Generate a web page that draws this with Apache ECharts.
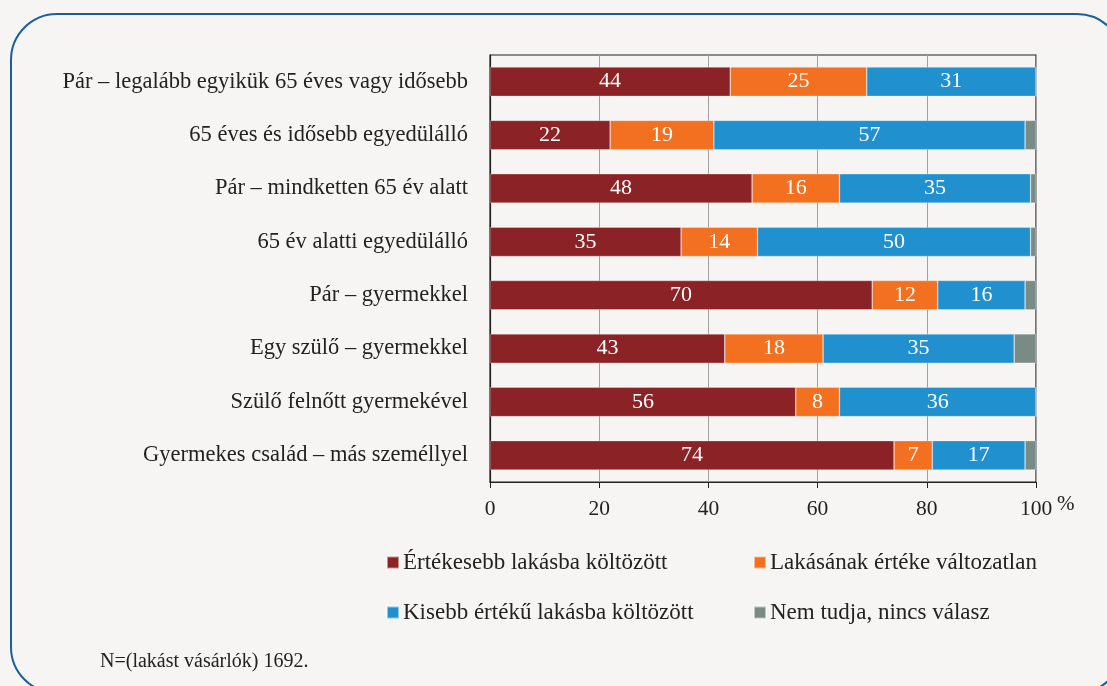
<!DOCTYPE html>
<html>
<head>
<meta charset="utf-8">
<script src="https://cdn.jsdelivr.net/npm/echarts@6/dist/echarts.min.js"></script>
<style>
html,body{margin:0;padding:0;background:#f6f5f3;}
#main{width:1107px;height:686px;}
</style>
</head>
<body>
<div id="main"></div>
<script>
// kategóriák és adatok
const categories = [
	'Pár – legalább egyikük 65 éves vagy idősebb',
	'65 éves és idősebb egyedülálló',
	'Pár – mindketten 65 év alatt',
	'65 év alatti egyedülálló',
	'Pár – gyermekkel',
	'Egy szülő – gyermekkel',
	'Szülő felnőtt gyermekével',
	'Gyermekes család – más személlyel'
];
const ertekesebb = [44, 22, 48, 35, 70, 43, 56, 74];
const valtozatlan = [25, 19, 16, 14, 12, 18, 8, 7];
const kisebb = [31, 57, 35, 50, 16, 35, 36, 17];
const nemTudja = [0, 2, 1, 1, 2, 4, 0, 2];
const xTicks = [0, 20, 40, 60, 80, 100];

const seriesNames = ['Értékesebb lakásba költözött', 'Lakásának értéke változatlan', 'Kisebb értékű lakásba költözött', 'Nem tudja, nincs válasz'];
const colors = ['#8b2226', '#f37021', '#2190cf', '#7a8a84'];
const font = '"Liberation Serif", "DejaVu Serif", serif';

let myChart = echarts.init(document.getElementById('main'));

function barSeries(name, data, showLabel) {
	return {
		name: name,
		type: 'bar',
		stack: 'total',
		barCategoryGap: '45%',
		data: data,
		itemStyle: {borderColor: 'rgba(255,255,255,0.5)', borderWidth: 0.6},
		label: {
			show: showLabel,
			position: 'inside',
			color: '#fff',
			fontFamily: font,
			fontSize: 22,
			formatter: p => p.value > 0 ? p.value : ''
		}
	};
}

function legendItem(i, left, top) {
	return {
		data: [seriesNames[i]],
		left: left,
		top: top,
		icon: 'rect',
		itemWidth: 12,
		itemHeight: 12,
		itemGap: 6,
		textStyle: {fontFamily: font, fontSize: 23, color: '#222', padding: [0, 0, 0, -1]}
	};
}

var option = {
	backgroundColor: '#f6f5f3',
	color: colors,
	animation: false,
	grid: {
		left: 490, right: 71, top: 55, bottom: 204,
		show: true, borderColor: '#222', borderWidth: 1.2, backgroundColor: 'transparent'
	},
	legend: [
		legendItem(0, 381, 546),
		legendItem(1, 748, 546),
		legendItem(2, 381, 596),
		legendItem(3, 748, 596)
	],
	xAxis: {
		type: 'value',
		min: 0,
		max: 100,
		interval: 20,
		axisLine: {show: true, lineStyle: {color: '#222', width: 1.2}},
		axisTick: {show: true, inside: false, length: 6, lineStyle: {color: '#222'}},
		axisLabel: {
			fontFamily: font, fontSize: 21.5, color: '#222', margin: 16,
			formatter: v => xTicks.indexOf(v) >= 0 ? String(v) : ''
		},
		splitLine: {show: true, lineStyle: {color: '#a0a0a0', width: 1}}
	},
	yAxis: {
		type: 'category',
		inverse: true,
		data: categories,
		axisLine: {show: true, lineStyle: {color: '#222', width: 1.2}},
		axisTick: {show: false},
		axisLabel: {fontFamily: font, fontSize: 22.5, color: '#222', margin: 22}
	},
	graphic: [
		{
			type: 'rect',
			shape: {x: 11, y: 14, width: 1112, height: 679, r: 46},
			style: {fill: 'none', stroke: '#1a5e9e', lineWidth: 2},
			silent: true
		},
		{
			type: 'text',
			left: 1057, top: 494,
			style: {text: '%', font: '21px ' + font, fill: '#222'}
		},
		{
			type: 'text',
			left: 100, top: 652,
			style: {text: 'N=(lakást vásárlók) 1692.', font: '20px ' + font, fill: '#222'}
		}
	],
	series: [
		barSeries(seriesNames[0], ertekesebb, true),
		barSeries(seriesNames[1], valtozatlan, true),
		barSeries(seriesNames[2], kisebb, true),
		barSeries(seriesNames[3], nemTudja, false)
	]
};

myChart.setOption(option);
</script>
</body>
</html>
